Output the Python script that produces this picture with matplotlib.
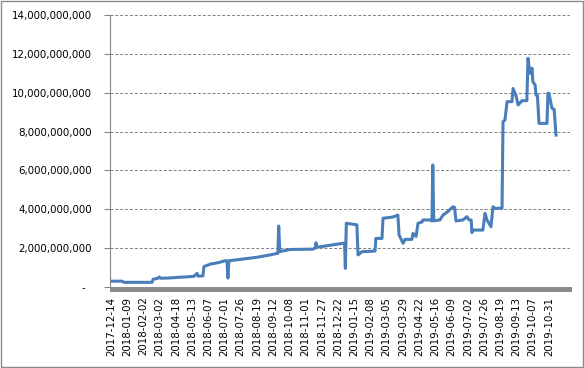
import numpy as np
import matplotlib
matplotlib.use("Agg")
import matplotlib.pyplot as plt
from matplotlib.patches import Rectangle
from matplotlib.ticker import FuncFormatter

# category labels shown on the x axis (every n-th date of the series)
date_labels = ["2017-12-14", "2018-01-09", "2018-02-02", "2018-03-02", "2018-04-18",
               "2018-05-13", "2018-06-07", "2018-07-01", "2018-07-26", "2018-08-19",
               "2018-09-12", "2018-10-08", "2018-11-01", "2018-11-27", "2018-12-22",
               "2019-01-15", "2019-02-08", "2019-03-05", "2019-03-29", "2019-04-22",
               "2019-05-16", "2019-06-09", "2019-07-02", "2019-07-26", "2019-08-19",
               "2019-09-13", "2019-10-07", "2019-10-31"]

# series position along the category axis (in label steps) and value in billions
pos = [0, 0.70, 0.79, 2.53, 2.60, 2.90, 2.97, 3.07, 3.72, 4.18, 4.65, 5.11, 5.31, 5.37,
       5.67, 5.73, 6.13, 6.60, 7.02, 7.15, 7.21, 7.27, 7.95, 9.00, 9.80, 10.24, 10.29,
       10.34, 10.41, 11.04, 12.45, 12.59, 12.64, 12.70, 12.89, 14.30, 14.40, 14.45,
       14.51, 15.16, 15.23, 15.48, 16.28, 16.33, 16.71, 16.77, 17.38, 17.69, 17.76,
       18.01, 18.13, 18.55, 18.62, 18.81, 18.93, 19.18, 19.23, 19.67, 19.79, 19.84,
       19.90, 20.28, 20.47, 20.77, 21.08, 21.18, 21.27, 21.70, 21.94, 22.08, 22.21,
       22.25, 22.32, 22.93, 23.06, 23.18, 23.43, 23.55, 23.67, 24.11, 24.17, 24.29,
       24.42, 24.72, 24.79, 24.96, 25.10, 25.34, 25.64, 25.71, 25.83, 25.96, 26.01,
       26.15, 26.20, 26.29, 26.39, 26.88, 26.94, 27.00, 27.19, 27.32, 27.44]
value_bn = [0.30, 0.30, 0.24, 0.24, 0.40, 0.45, 0.52, 0.45, 0.47, 0.50, 0.52, 0.55, 0.70,
            0.56, 0.57, 1.05, 1.18, 1.25, 1.35, 1.35, 0.46, 1.35, 1.42, 1.53, 1.65, 1.73,
            1.73, 3.14, 1.82, 1.93, 1.95, 2.00, 2.28, 2.05, 2.07, 2.25, 2.25, 0.96, 3.28,
            3.20, 1.65, 1.82, 1.85, 2.50, 2.50, 3.54, 3.60, 3.70, 2.68, 2.25, 2.45, 2.45,
            2.76, 2.60, 3.28, 3.35, 3.45, 3.45, 3.40, 6.28, 3.41, 3.45, 3.70, 3.88, 4.13,
            4.10, 3.40, 3.45, 3.62, 3.45, 3.45, 2.80, 2.93, 2.93, 3.79, 3.45, 3.10, 4.13,
            4.05, 4.05, 8.51, 8.60, 9.54, 9.54, 10.22, 9.88, 9.37, 9.59, 9.59, 11.77,
            11.00, 11.26, 10.57, 10.40, 9.88, 9.88, 8.42, 8.42, 9.97, 9.97, 9.20, 9.15,
            7.82]

fig = plt.figure(figsize=(5.84, 3.68), dpi=100)
ax = fig.add_axes([110/584, 1 - 287/368, 460/584, 272/368])

ax.plot(pos, np.array(value_bn) * 1e9, color="#4a7ebb", lw=2.2, solid_joinstyle="round")

ax.set_xlim(-0.06, 28.3)
ax.set_ylim(0, 14e9)
ax.set_yticks(np.arange(0, 14.1e9, 2e9))
ax.yaxis.set_major_formatter(FuncFormatter(lambda v, p: "-  " if v == 0 else f"{v:,.0f}"))
ax.set_xticks(range(len(date_labels)))
ax.set_xticklabels(date_labels, rotation=90)

ax.grid(axis="y", color="#7f7f7f", lw=0.7, ls=(0, (3, 2)))
ax.set_axisbelow(True)
for s in ["top", "right", "bottom"]:
    ax.spines[s].set_visible(False)
ax.spines["left"].set_color("#868686")
ax.tick_params(axis="y", length=4, color="#868686", pad=9, labelsize=7.4)
ax.tick_params(axis="x", length=0, pad=7, labelsize=7.4)

# thick grey floor under the plot, like the Excel axis band
ax.add_patch(Rectangle((0, -5/272), 1.005, 5/272, transform=ax.transAxes,
                       color="#8c8c8c", clip_on=False, lw=0))

# chart border
fig.add_artist(Rectangle((0.001, 0.002), 0.997, 0.995, transform=fig.transFigure,
                         fill=False, edgecolor="#8a8a8a", lw=1))

fig.savefig("out.png", dpi=100)
